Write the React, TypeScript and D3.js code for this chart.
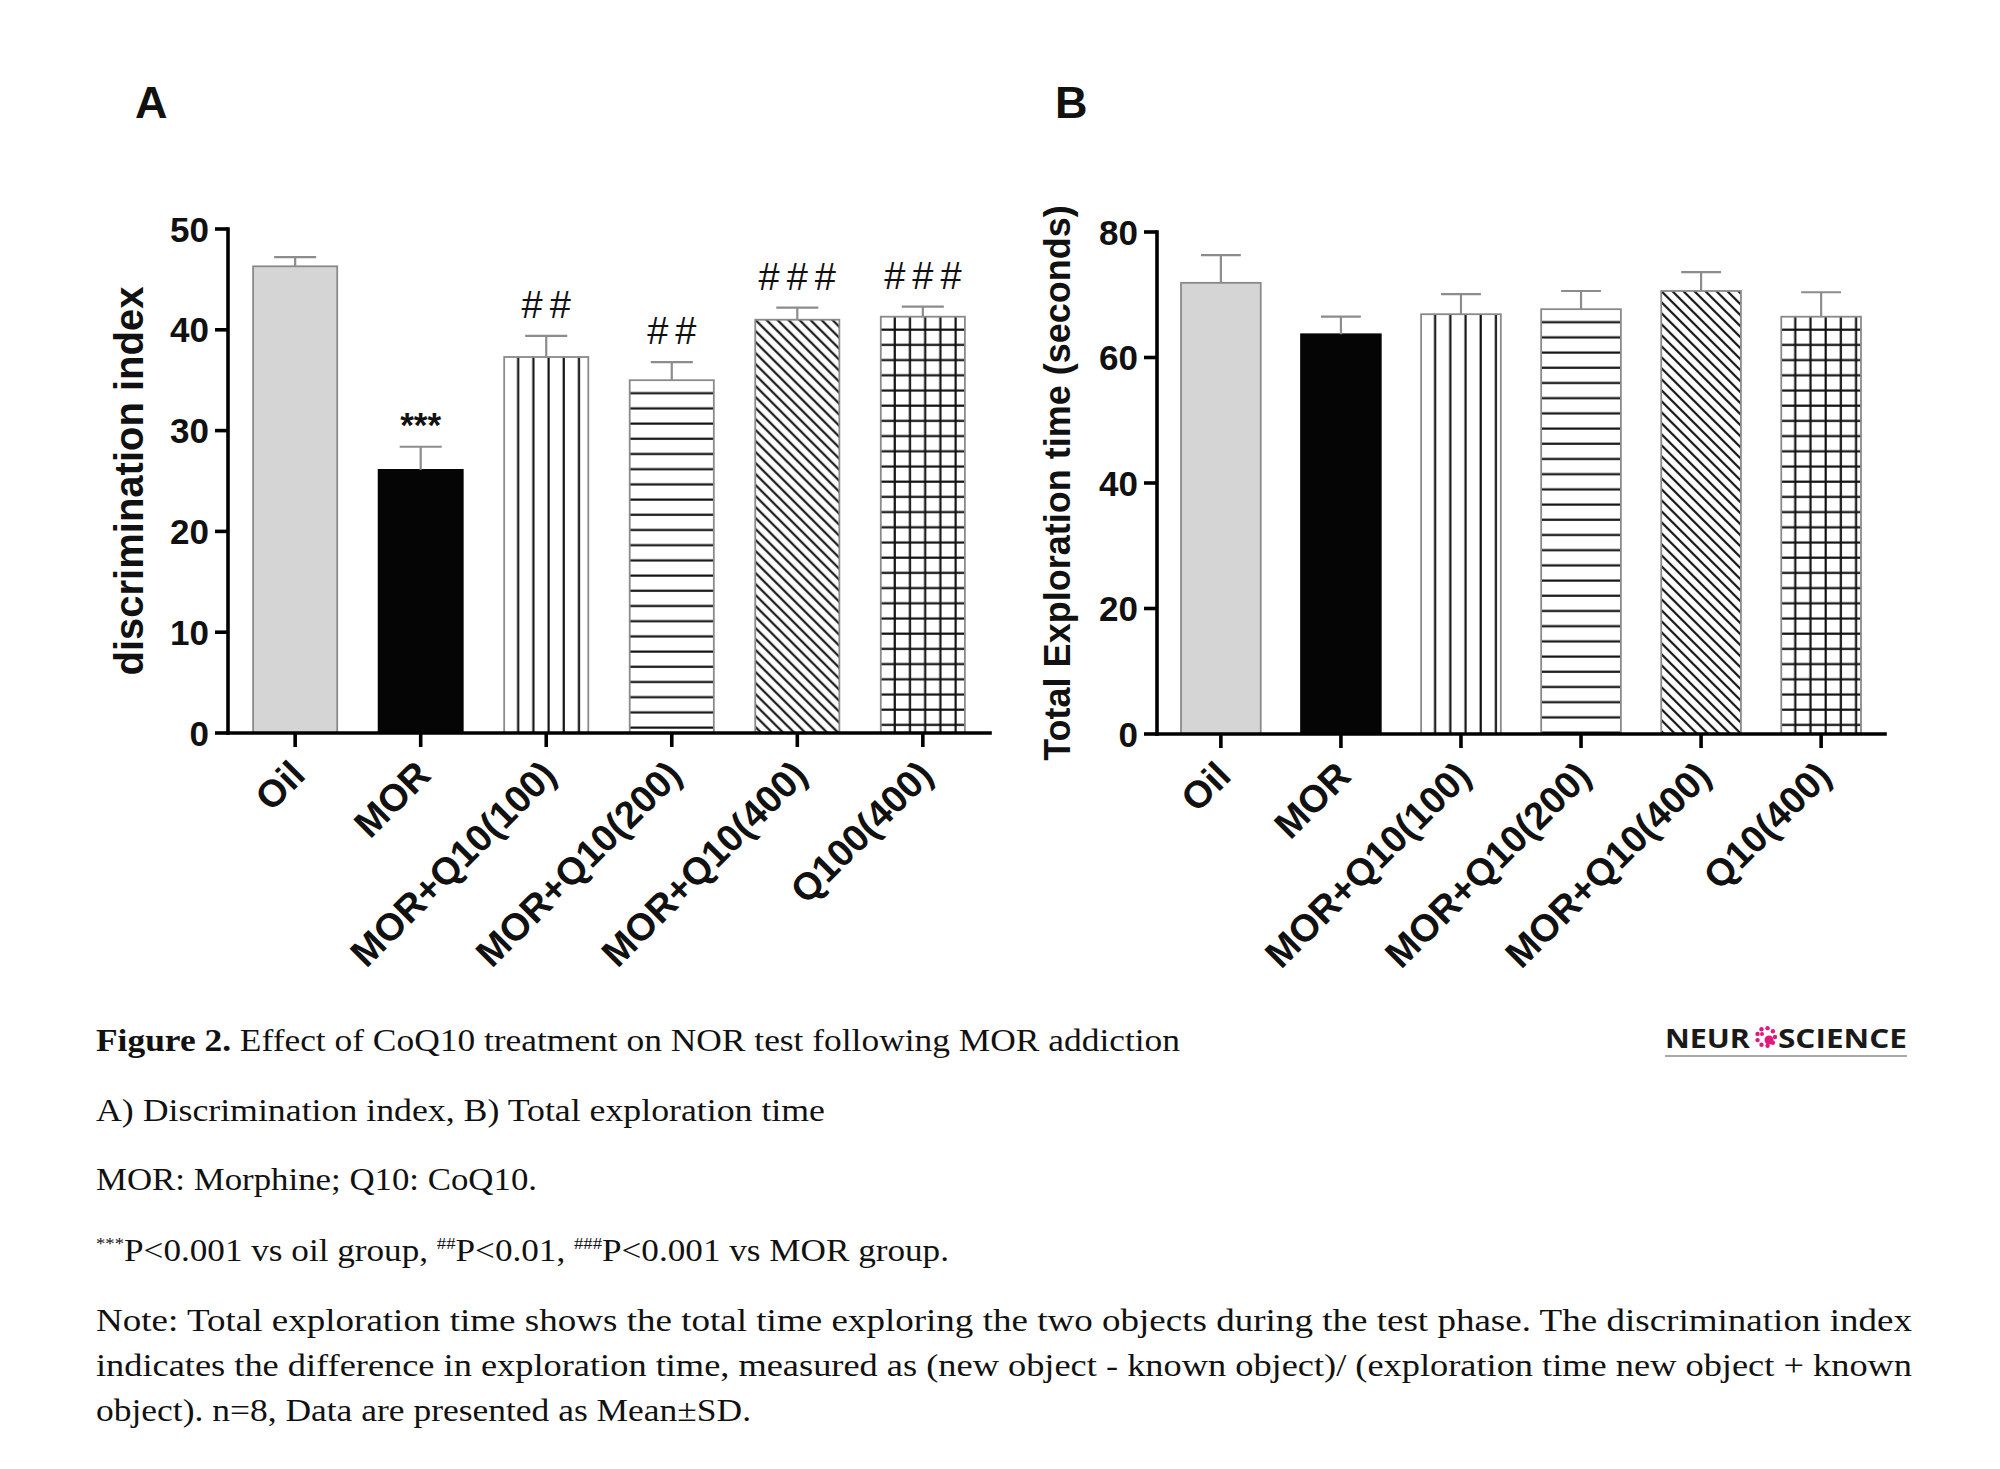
import React from "react";
import * as d3 from "d3";

// ---------- data ----------
const categoriesA = ["Oil", "MOR", "MOR+Q10(100)", "MOR+Q10(200)", "MOR+Q10(400)", "Q100(400)"];
const meansA = [46.3, 26.1, 37.3, 35.0, 41.0, 41.3];
const sdA = [0.9, 2.3, 2.1, 1.8, 1.2, 1.0];
const marksA = ["", "***", "##", "##", "###", "###"];
const yTicksA = [0, 10, 20, 30, 40, 50];

const categoriesB = ["Oil", "MOR", "MOR+Q10(100)", "MOR+Q10(200)", "MOR+Q10(400)", "Q10(400)"];
const meansB = [71.9, 63.7, 66.9, 67.7, 70.6, 66.5];
const sdB = [4.4, 2.8, 3.2, 2.9, 3.0, 3.9];
const marksB = ["", "", "", "", "", ""];
const yTicksB = [0, 20, 40, 60, 80];

const fillKinds = ["gray", "black", "vertical", "horizontal", "diagonal", "grid"];

const captionTitleBold = "Figure 2.";
const captionTitleRest = " Effect of CoQ10 treatment on NOR test following MOR addiction";
const captionLine2 = "A) Discrimination index, B) Total exploration time";
const captionLine3 = "MOR: Morphine; Q10: CoQ10.";
const captionLine4Parts = [
  { t: "***", sup: true },
  { t: "P<0.001 vs oil group, ", sup: false },
  { t: "##", sup: true },
  { t: "P<0.01, ", sup: false },
  { t: "###", sup: true },
  { t: "P<0.001 vs MOR group.", sup: false },
];
const noteLines = [
  "Note: Total exploration time shows the total time exploring the two objects during the test phase. The discrimination index",
  "indicates the difference in exploration time, measured as (new object - known object)/ (exploration time new object + known",
  "object). n=8, Data are presented as Mean±SD.",
];

// ---------- styles ----------
const SANS = "'Liberation Sans', Arial, Helvetica, sans-serif";
const SERIF = "'Liberation Serif', 'Times New Roman', serif";
const AXIS_W = 3.6;
const HATCH = 15.2;
const DIAG = 11;

type PanelProps = {
  id: string;
  letter: string;
  letterX: number;
  cats: string[];
  means: number[];
  sds: number[];
  marks: string[];
  ticks: number[];
  maxV: number;
  x0: number;
  x1: number;
  yTop: number;
  yBot: number;
  padInner: number;
  padOuter: number;
  title: string;
  titleX: number;
  titleSize: number;
};

function patternFor(id: string, kind: string, bx: number, by: number) {
  if (kind === "vertical") {
    return (
      <pattern id={id} key={id} patternUnits="userSpaceOnUse" x={bx} y={by} width={HATCH} height={HATCH}>
        <line x1={14} x2={14} y1={-1} y2={HATCH + 1} stroke="#111" strokeWidth={2.2} />
      </pattern>
    );
  }
  if (kind === "horizontal") {
    return (
      <pattern id={id} key={id} patternUnits="userSpaceOnUse" x={bx} y={by} width={HATCH} height={HATCH}>
        <line x1={-1} x2={HATCH + 1} y1={13} y2={13} stroke="#111" strokeWidth={2.2} />
      </pattern>
    );
  }
  if (kind === "grid") {
    return (
      <pattern id={id} key={id} patternUnits="userSpaceOnUse" x={bx} y={by} width={HATCH} height={HATCH}>
        <line x1={14} x2={14} y1={-1} y2={HATCH + 1} stroke="#111" strokeWidth={2.2} />
        <line x1={-1} x2={HATCH + 1} y1={13} y2={13} stroke="#111" strokeWidth={2.2} />
      </pattern>
    );
  }
  if (kind === "diagonal") {
    const w = DIAG;
    return (
      <pattern id={id} key={id} patternUnits="userSpaceOnUse" x={bx} y={by} width={w} height={w}>
        <path
          d={`M0,0 L${w},${w} M${-w / 2},${w / 2} L${w / 2},${(3 * w) / 2} M${w / 2},${-w / 2} L${(3 * w) / 2},${w / 2}`}
          stroke="#111"
          strokeWidth={2.2}
        />
      </pattern>
    );
  }
  return null;
}

function Panel(p: PanelProps) {
  const x = d3
    .scaleBand<string>()
    .domain(p.cats)
    .range([p.x0, p.x1])
    .paddingInner(p.padInner)
    .paddingOuter(p.padOuter);
  const y = d3.scaleLinear().domain([0, p.maxV]).range([p.yBot, p.yTop]);
  const bw = x.bandwidth();

  return (
    <g>
      <defs>
        {p.cats.map((c, i) => patternFor(`${p.id}-pat-${i}`, fillKinds[i], x(c) as number, y(p.means[i])))}
      </defs>

      {/* panel letter */}
      <text x={p.letterX} y={118} fontFamily={SANS} fontWeight={700} fontSize={45} fill="#111">
        {p.letter}
      </text>

      {/* bars */}
      {p.cats.map((c, i) => {
        const bx = x(c) as number;
        const top = y(p.means[i]);
        const h = y(0) - top;
        const kind = fillKinds[i];
        let fill = "#fff";
        if (kind === "gray") fill = "#d5d5d5";
        else if (kind === "black") fill = "#050505";
        return (
          <g key={c}>
            <rect x={bx} y={top} width={bw} height={h} fill={fill} />
            {kind !== "gray" && kind !== "black" && (
              <rect x={bx} y={top} width={bw} height={h} fill={`url(#${p.id}-pat-${i})`} />
            )}
            <rect
              x={bx}
              y={top}
              width={bw}
              height={h}
              fill="none"
              stroke={kind === "black" ? "#050505" : "#8a8a8a"}
              strokeWidth={1.8}
            />
          </g>
        );
      })}

      {/* error bars (upper SD) */}
      {p.cats.map((c, i) => {
        const cx = (x(c) as number) + bw / 2;
        const top = y(p.means[i]);
        const e = y(p.means[i] + p.sds[i]);
        return (
          <g key={`e-${c}`} stroke="#8c8c8c" strokeWidth={2.2}>
            <line x1={cx} x2={cx} y1={top} y2={e} />
            <line x1={cx - bw / 4} x2={cx + bw / 4} y1={e} y2={e} />
          </g>
        );
      })}

      {/* significance marks */}
      {p.cats.map((c, i) => {
        const m = p.marks[i];
        if (!m) return null;
        const cx = (x(c) as number) + bw / 2;
        const e = y(p.means[i] + p.sds[i]);
        const isStar = m.includes("*");
        return (
          <text
            key={`m-${c}`}
            x={isStar ? cx : cx + 3.5}
            y={isStar ? e - 10 : e - 18}
            textAnchor="middle"
            fontFamily={SANS}
            fontWeight={isStar ? 700 : 400}
            fontSize={isStar ? 35 : 38}
            letterSpacing={isStar ? 0 : 7}
            fill="#111"
          >
            {m}
          </text>
        );
      })}

      {/* axes */}
      <line x1={p.x0} x2={p.x0} y1={p.yTop} y2={p.yBot} stroke="#000" strokeWidth={AXIS_W} strokeLinecap="square" />
      <line x1={p.x0} x2={p.x1} y1={p.yBot} y2={p.yBot} stroke="#000" strokeWidth={AXIS_W} strokeLinecap="square" />

      {p.ticks.map((t) => (
        <g key={`yt-${t}`}>
          <line x1={p.x0 - 13} x2={p.x0} y1={y(t)} y2={y(t)} stroke="#000" strokeWidth={AXIS_W} />
          <text
            x={p.x0 - 19}
            y={y(t)}
            dy="0.36em"
            textAnchor="end"
            fontFamily={SANS}
            fontWeight={700}
            fontSize={35}
            fill="#111"
          >
            {t}
          </text>
        </g>
      ))}

      {p.cats.map((c) => {
        const cx = (x(c) as number) + bw / 2;
        return (
          <g key={`xt-${c}`}>
            <line x1={cx} x2={cx} y1={p.yBot} y2={p.yBot + 14} stroke="#000" strokeWidth={AXIS_W} />
            <text
              transform={`translate(${cx + 12},${p.yBot + 44}) rotate(-45)`}
              textAnchor="end"
              fontFamily={SANS}
              fontWeight={700}
              fontSize={38}
              fill="#111"
            >
              {c}
            </text>
          </g>
        );
      })}

      {/* y title */}
      <text
        transform={`translate(${p.titleX},${(p.yTop + p.yBot) / 2}) rotate(-90)`}
        textAnchor="middle"
        fontFamily={SANS}
        fontWeight={700}
        fontSize={p.titleSize}
        fill="#111"
      >
        {p.title}
      </text>
    </g>
  );
}

function Logo() {
  const cx = 1766;
  const cy = 1037;
  const dots = d3.range(0, 360, 40);
  return (
    <g>
      <text x={1665} y={1048} fontFamily="'Open Sans', 'DejaVu Sans', sans-serif" fontWeight={700} fontSize={27}
        fill="#1a1a1a" textLength={85} lengthAdjust="spacingAndGlyphs">
        NEUR
      </text>
      <g fill="#e3187c">
        {dots.map((a) => (
          <circle key={a} cx={cx + 9 * Math.cos((a * Math.PI) / 180)} cy={cy + 9 * Math.sin((a * Math.PI) / 180)} r={2.2} />
        ))}
        <circle cx={cx + 3} cy={cy + 3} r={4.5} />
        <circle cx={cx - 4} cy={cy - 3} r={2} />
      </g>
      <text x={1778} y={1048} fontFamily="'Open Sans', 'DejaVu Sans', sans-serif" fontWeight={700} fontSize={27}
        fill="#1a1a1a" textLength={129} lengthAdjust="spacingAndGlyphs">
        SCIENCE
      </text>
      <line x1={1665} x2={1907} y1={1056} y2={1056} stroke="#a8a8a8" strokeWidth={2} />
    </g>
  );
}

export default function App() {
  const capX = 96;
  return (
    <svg
      width={2000}
      height={1469}
      viewBox="0 0 2000 1469"
      style={{ position: "absolute", left: 0, top: 0, background: "#fff" }}
    >
      <rect x={0} y={0} width={2000} height={1469} fill="#fff" />

      <Panel
        id="A"
        letter="A"
        letterX={135}
        cats={categoriesA}
        means={meansA}
        sds={sdA}
        marks={marksA}
        ticks={yTicksA}
        maxV={50}
        x0={228}
        x1={990}
        yTop={229}
        yBot={733}
        padInner={0.33}
        padOuter={0.2}
        title="discrimination index"
        titleX={143}
        titleSize={40}
      />
      <Panel
        id="B"
        letter="B"
        letterX={1055}
        cats={categoriesB}
        means={meansB}
        sds={sdB}
        marks={marksB}
        ticks={yTicksB}
        maxV={80}
        x0={1157}
        x1={1885}
        yTop={232}
        yBot={734}
        padInner={0.336}
        padOuter={0.2}
        title="Total Exploration time (seconds)"
        titleX={1070}
        titleSize={36}
      />

      {/* caption */}
      <g fontFamily={SERIF} fontSize={32} fill="#111">
        <text x={capX} y={1051} textLength={1084} lengthAdjust="spacingAndGlyphs">
          <tspan fontWeight={700}>{captionTitleBold}</tspan>
          <tspan>{captionTitleRest}</tspan>
        </text>
        <text x={capX} y={1121} textLength={729} lengthAdjust="spacingAndGlyphs">
          {captionLine2}
        </text>
        <text x={capX} y={1190} textLength={441} lengthAdjust="spacingAndGlyphs">
          {captionLine3}
        </text>
        <text x={capX} y={1261} textLength={853} lengthAdjust="spacingAndGlyphs">
          {captionLine4Parts.map((pt, i) =>
            pt.sup ? (
              <tspan key={i} fontSize={17} dy={-12}>
                {pt.t}
              </tspan>
            ) : (
              <tspan key={i} dy={i > 0 && captionLine4Parts[i - 1].sup ? 12 : 0}>
                {pt.t}
              </tspan>
            )
          )}
        </text>
        <text x={capX} y={1331} textLength={1816} lengthAdjust="spacingAndGlyphs">
          {noteLines[0]}
        </text>
        <text x={capX} y={1376} textLength={1816} lengthAdjust="spacingAndGlyphs">
          {noteLines[1]}
        </text>
        <text x={capX} y={1421} textLength={655} lengthAdjust="spacingAndGlyphs">
          {noteLines[2]}
        </text>
      </g>

      <Logo />
    </svg>
  );
}
